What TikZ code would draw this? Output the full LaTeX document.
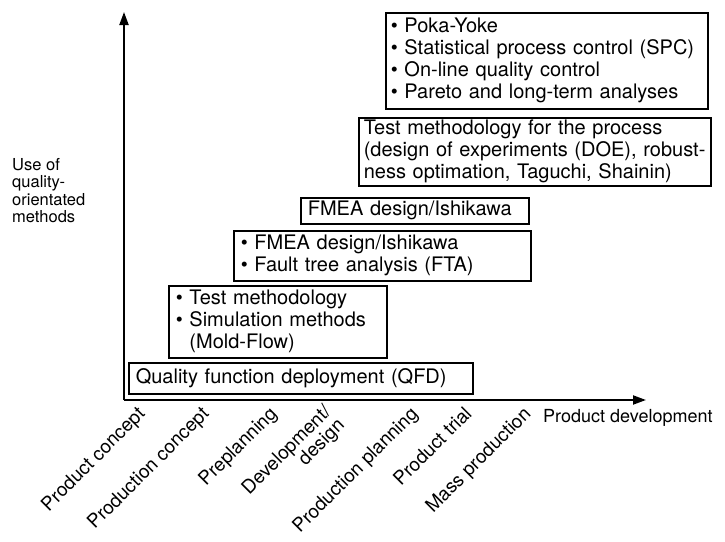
\documentclass[tikz,border=0pt]{standalone}
\usepackage{fontspec}
\setmainfont{TeX Gyre Heros}
\usetikzlibrary{arrows.meta}
\newcommand{\stagefont}{\fontsize{20}{22}\selectfont}
\newcommand{\phasefont}{\fontsize{19}{19}\selectfont}
\newcommand{\useitem}{\textbullet~}
\begin{document}
\begin{tikzpicture}[x=1pt,y=-1pt,
  stage/.style={draw,line width=1.6pt,anchor=north west,align=left,inner xsep=7pt,inner ysep=2pt,font=\stagefont},
  phase/.style={rotate=45,anchor=north east,inner sep=0pt,font=\phasefont},
  axis/.style={line width=2pt,-{Triangle[length=13pt,width=9pt]}}]
\useasboundingbox (0,0) rectangle (725,541);
\path
node[stage,text width=330pt,minimum height=31pt] (qfd) at (128,362) {Quality function deployment (QFD)}
node[stage,text width=204pt,minimum height=72pt] (test) at (168,285)
    {\useitem Test methodology\\\useitem Simulation methods\\\hphantom{\useitem}(Mold-Flow)}
node[stage,text width=283pt,minimum height=50pt] (fta) at (233,230)
    {\useitem FMEA design/Ishikawa\\\useitem Fault tree analysis (FTA)}
node[stage,text width=214pt,minimum height=26pt] (fmea) at (300,197) {FMEA design/Ishikawa}
node[stage,inner xsep=5pt,text width=342pt,minimum height=68pt] (doe) at (358,117)
    {Test methodology for the process\\(design of experiments (DOE), robust-\\ness optimation, Taguchi, Shainin)}
node[stage,inner xsep=5pt,text width=312pt,minimum height=96pt] (spc) at (385,12)
    {\useitem Poka-Yoke\\\useitem Statistical process control (SPC)\\\useitem On-line quality control\\\useitem Pareto and long-term analyses};
\coordinate (origin) at (124,400);
\coordinate (ytip) at (124,12);
\coordinate (xtip) at (646,400);
\draw[axis] (origin) -- (ytip);
\draw[axis] (origin) -- (xtip);
\node[anchor=north west,inner sep=0pt,align=left,font=\fontsize{16.5}{17.5}\selectfont] (use) at (12,158)
    {Use of\\quality-\\orientated\\methods};
\node[anchor=north west,inner sep=0pt,font=\fontsize{18}{18}\selectfont] (dev) at (543,409) {Product development};
\path
node[phase] (ph1) at (136,405) {Product concept}
node[phase] (ph2) at (200,405) {Production concept}
node[phase] (ph3) at (268,405) {Preplanning}
node[phase,align=right] (ph4) at (322,403) {Development/\\design}
node[phase] (ph5) at (409,405) {Production planning}
node[phase] (ph6) at (463,405) {Product trial}
node[phase] (ph7) at (522,405) {Mass production};
\end{tikzpicture}
\end{document}
